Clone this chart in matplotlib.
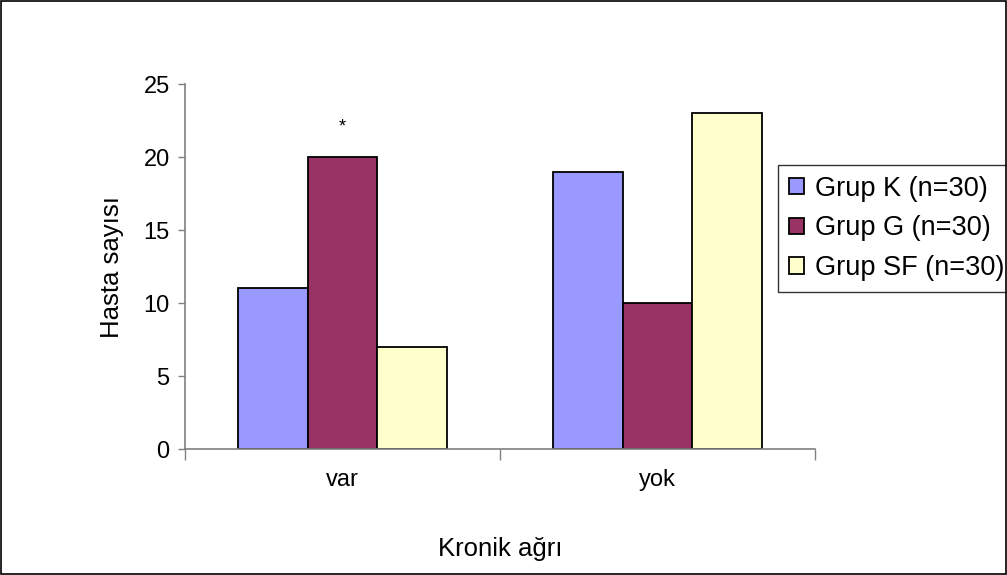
import matplotlib
matplotlib.use("Agg")
import matplotlib.pyplot as plt
import numpy as np

plt.rcParams["font.family"] = ["Liberation Sans", "DejaVu Sans"]

# kronik ağrı var / yok, grup başına hasta sayısı
categories = ["var", "yok"]
groups = ["Grup K (n=30)", "Grup G (n=30)", "Grup SF (n=30)"]
grup_k = [11, 19]
grup_g = [20, 10]
grup_sf = [7, 23]
colors = ["#9999FF", "#993366", "#FFFFCC"]
y_ticks = [0, 5, 10, 15, 20, 25]

fig = plt.figure(figsize=(10.07, 5.75), dpi=100)
ax = fig.add_axes([0.1837, 0.2191, 0.6256, 0.6348])

x = np.arange(len(categories))
w = 0.221
for i, (vals, lab, col) in enumerate(zip([grup_k, grup_g, grup_sf], groups, colors)):
    ax.bar(x + (i - 1) * w, vals, width=w, color=col, edgecolor="black",
           linewidth=1.3, label=lab)

# anlamlılık işareti (Grup G, var)
ax.text(x[0], grup_g[0] + 1.45, "*", ha="center", va="bottom", fontsize=13)

ax.set_xlim(-0.5, 1.5)
ax.set_ylim(0, 25)
ax.set_yticks(y_ticks)
ax.tick_params(axis="y", labelsize=17, length=5, width=1, color="#808080", pad=6)
ax.set_xticks([-0.5, 0.5, 1.5])
ax.set_xticklabels([])
ax.tick_params(axis="x", length=8, width=1, color="#808080")
for xi, lab in zip(x, categories):
    ax.text(xi, -2.1, lab, ha="center", va="center", fontsize=17)

for s in ["top", "right"]:
    ax.spines[s].set_visible(False)
for s in ["left", "bottom"]:
    ax.spines[s].set_color("#808080")
    ax.spines[s].set_linewidth(1.2)

fig.text(0.1115, 0.5365, "Hasta sayısı", rotation=90, ha="center", va="center", fontsize=18.5)
fig.text(0.4965, 0.045, "Kronik ağrı", ha="center", va="center", fontsize=18.5)

leg = ax.legend(loc="upper left", bbox_to_anchor=(0.7726, 0.713),
                bbox_transform=fig.transFigure, fontsize=19.5, frameon=True,
                fancybox=False, edgecolor="black", handlelength=0.55,
                handleheight=0.55, handletextpad=0.4, labelspacing=0.5,
                borderpad=0.4, borderaxespad=0)
leg.get_frame().set_linewidth(1.0)

# dış çerçeve
fig.patches.append(plt.Rectangle((0.001, 0.001), 0.998, 0.997, transform=fig.transFigure,
                                 fill=False, edgecolor="black", linewidth=1.2))

fig.savefig("out.png", dpi=100)
